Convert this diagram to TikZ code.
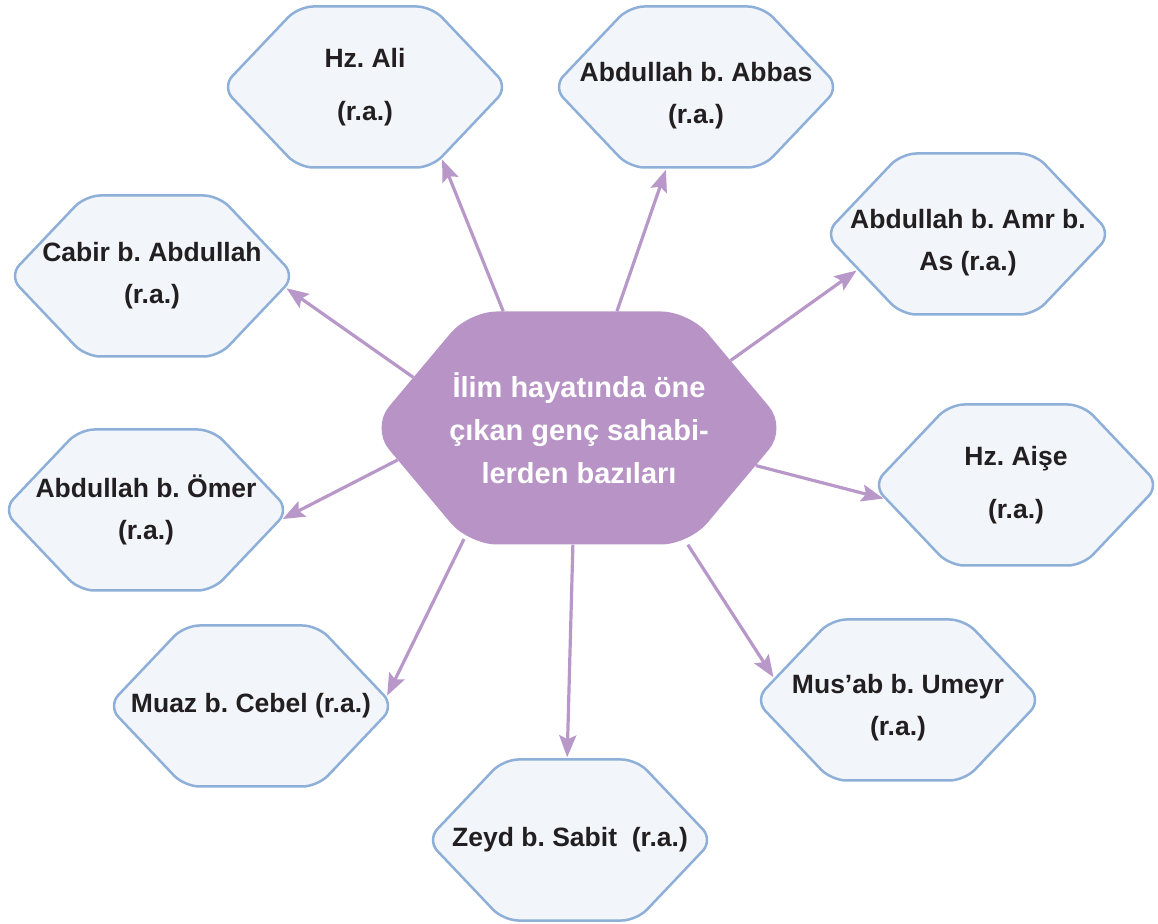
\documentclass[tikz,border=0pt]{standalone}
\usepackage{fontspec}
\setmainfont{Liberation Sans}
\frenchspacing
\usetikzlibrary{shapes.symbols,arrows.meta}

\definecolor{hexfill}{HTML}{F2F6FB}
\definecolor{hexline}{HTML}{8EAFD8}
\definecolor{hubfill}{HTML}{B794C5}
\definecolor{linkcol}{HTML}{B898C9}
\definecolor{namecol}{HTML}{231F20}

\tikzset{
	hexagon/.style={signal, signal to=west and east, inner sep=0pt},
	name text/.style={align=center, inner sep=0pt},
	sahabi/.style 2 args={hexagon, signal pointer angle=93, draw=hexline,
		line width=2.5pt, fill=hexfill, rounded corners=15pt,
		minimum width=286pt, minimum height=161pt,
		label={[name text, yshift=#2, text=namecol, font=\fontsize{26.5}{42}\selectfont\bfseries]center:#1}},
	hub/.style={hexagon, signal pointer angle=100, fill=hubfill,
		rounded corners=28pt, minimum width=416pt, minimum height=233pt,
		label={[name text, text=white, font=\fontsize{29}{43}\selectfont\bfseries]center:#1}},
	link/.style={draw=linkcol, line width=3.2pt, shorten >=1pt,
		-{Stealth[length=22pt,width=17pt,inset=4pt]}}
}

\begin{document}
\begin{tikzpicture}[x=1pt,y=1pt]
	\useasboundingbox (0,0) rectangle (1158,923);

	\node[hub={İlim hayatında öne\\çıkan genç sahabi-\\lerden bazıları}] (hub) at (579,495) {};

	\node[sahabi={Hz. Ali\\[11pt](r.a.)}{0pt}] (ali) at (365,836) {};
	\node[sahabi={Abdullah b. Abbas\\(r.a.)}{-9pt}] (abbas) at (696,836) {};
	\node[sahabi={Abdullah b. Amr b.\\As (r.a.)}{-9pt}] (amr) at (968,689) {};
	\node[sahabi={Hz. Aişe\\[11pt](r.a.)}{0pt}] (aise) at (1016,438) {};
	\node[sahabi={Mus’ab b. Umeyr\\(r.a.)}{-8pt}] (musab) at (898,223) {};
	\node[sahabi={Zeyd b. Sabit\ \ (r.a.)}{0pt}] (zeyd) at (570,83) {};
	\node[sahabi={Muaz b. Cebel (r.a.)}{0pt}] (muaz) at (251,217) {};
	\node[sahabi={Abdullah b. Ömer\\(r.a.)}{0pt}] (omer) at (146,413) {};
	\node[sahabi={Cabir b. Abdullah\\(r.a.)}{0pt}] (cabir) at (152,647) {};

	% arrows from the hub
	\draw[link] (hub.123) -- (ali.-43.6);
	\draw[link] (hub.72) -- (abbas.-110);
	\draw[link] (hub.24.4) -- (amr.198.3);
	\draw[link] (hub.-12.9) -- (aise.186.3);
	\draw[link] (hub.-47.4) -- (musab.170.5);
	\draw[link] (hub.-93.4) -- (zeyd.92);
	\draw[link] (hub.224.2) -- (muaz.4.5);
	\draw[link] (hub.190) -- (omer.-4.1);
	\draw[link] (hub.163.4) -- (cabir.-5.9);
\end{tikzpicture}
\end{document}
